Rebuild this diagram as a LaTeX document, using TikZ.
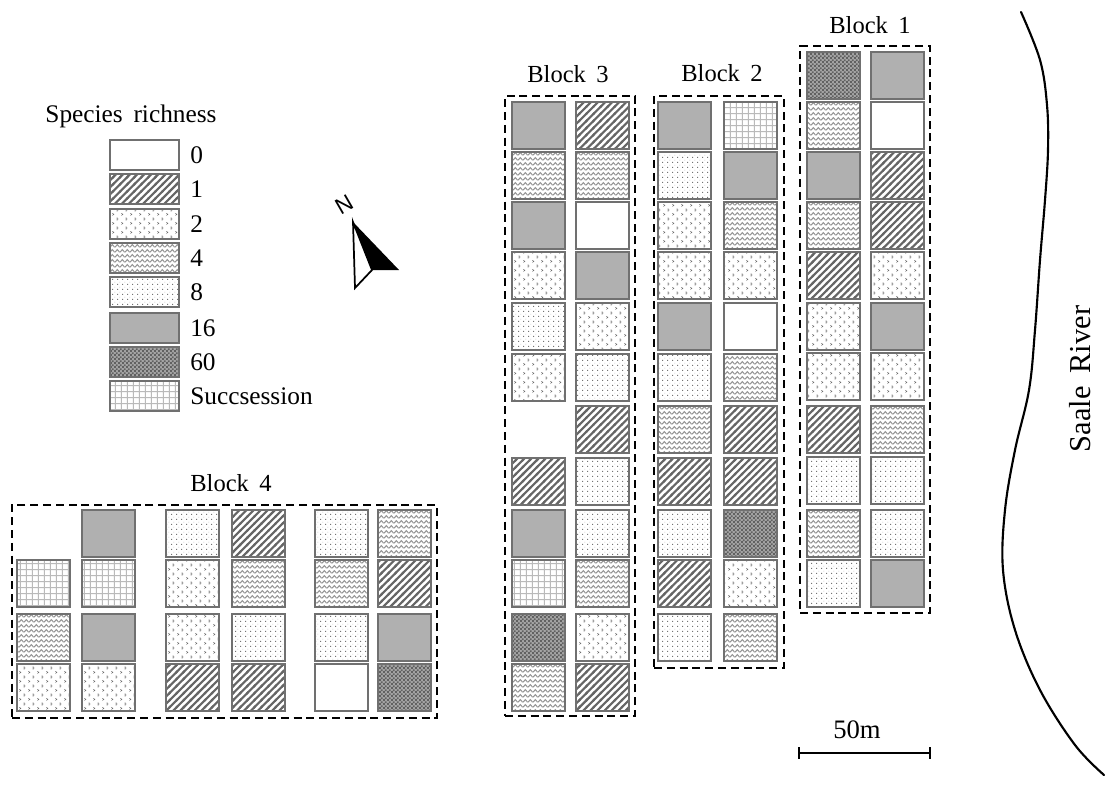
\documentclass[tikz,border=0pt]{standalone}
\usepackage{fontspec}
\setmainfont[WordSpace=1.7]{Liberation Serif}
\newfontfamily\northfont{Liberation Sans}
\usetikzlibrary{patterns}
\definecolor{edgegray}{HTML}{707070}
\definecolor{fillgray}{HTML}{B0B0B0}
\definecolor{darkfill}{HTML}{A4A4A4}
\pgfdeclarepatternformonly{pstripe}{\pgfqpoint{-1pt}{-1pt}}{\pgfqpoint{6.3pt}{6.3pt}}{\pgfqpoint{5.3pt}{5.3pt}}{%
  \pgfsetlinewidth{1.6pt}\pgfpathmoveto{\pgfqpoint{-1pt}{-1pt}}\pgfpathlineto{\pgfqpoint{6.3pt}{6.3pt}}\pgfusepath{stroke}}
\pgfdeclarepatternformonly{pchevron}{\pgfqpoint{0pt}{0pt}}{\pgfqpoint{7pt}{7pt}}{\pgfqpoint{7pt}{7pt}}{%
  \pgfpathrectangle{\pgfqpoint{1pt}{1pt}}{\pgfqpoint{.7pt}{.7pt}}
  \pgfpathrectangle{\pgfqpoint{1.7pt}{1.7pt}}{\pgfqpoint{.7pt}{.7pt}}
  \pgfpathrectangle{\pgfqpoint{1pt}{2.4pt}}{\pgfqpoint{.7pt}{.7pt}}
  \pgfpathrectangle{\pgfqpoint{4.5pt}{4.5pt}}{\pgfqpoint{.7pt}{.7pt}}
  \pgfpathrectangle{\pgfqpoint{5.2pt}{5.2pt}}{\pgfqpoint{.7pt}{.7pt}}
  \pgfpathrectangle{\pgfqpoint{4.5pt}{5.9pt}}{\pgfqpoint{.7pt}{.7pt}}
  \pgfusepath{fill}}
\pgfdeclarepatternformonly{pfine}{\pgfqpoint{0pt}{0pt}}{\pgfqpoint{4pt}{4pt}}{\pgfqpoint{4pt}{4pt}}{%
  \pgfpathrectangle{\pgfqpoint{1pt}{1pt}}{\pgfqpoint{.7pt}{.7pt}}
  \pgfpathrectangle{\pgfqpoint{3pt}{3pt}}{\pgfqpoint{.5pt}{.5pt}}
  \pgfusepath{fill}}
\pgfdeclarepatternformonly{pwave}{\pgfqpoint{0pt}{0pt}}{\pgfqpoint{3.6pt}{3.4pt}}{\pgfqpoint{3.6pt}{3.4pt}}{%
  \pgfsetlinewidth{.8pt}\pgfpathmoveto{\pgfqpoint{0pt}{.6pt}}\pgfpathlineto{\pgfqpoint{1.8pt}{2.8pt}}\pgfpathlineto{\pgfqpoint{3.6pt}{.6pt}}\pgfusepath{stroke}}
\pgfdeclarepatternformonly{pcheck}{\pgfqpoint{0pt}{0pt}}{\pgfqpoint{3.2pt}{3.2pt}}{\pgfqpoint{3.2pt}{3.2pt}}{%
  \pgfpathrectangle{\pgfqpoint{0pt}{0pt}}{\pgfqpoint{1.6pt}{1.6pt}}
  \pgfpathrectangle{\pgfqpoint{1.6pt}{1.6pt}}{\pgfqpoint{1.6pt}{1.6pt}}
  \pgfusepath{fill}}
\pgfdeclarepatternformonly{pgrid}{\pgfqpoint{0pt}{0pt}}{\pgfqpoint{4.75pt}{4.75pt}}{\pgfqpoint{4.75pt}{4.75pt}}{%
  \pgfsetlinewidth{.75pt}\pgfpathmoveto{\pgfqpoint{2pt}{0pt}}\pgfpathlineto{\pgfqpoint{2pt}{4.75pt}}
  \pgfpathmoveto{\pgfqpoint{0pt}{2pt}}\pgfpathlineto{\pgfqpoint{4.75pt}{2pt}}\pgfusepath{stroke}}
\tikzset{
  cell/.style={rectangle,anchor=north west,inner sep=0pt,outer sep=0pt,minimum width=39.75pt,minimum height=35.25pt,draw=edgegray,line width=1.2pt},
  key/.style={cell,minimum width=51.75pt,minimum height=22.5pt},
  p0/.style={fill=white},
  p1/.style={pattern=pstripe,pattern color=black!60},
  p2/.style={pattern=pchevron,pattern color=black!58},
  p4/.style={pattern=pwave,pattern color=black!42},
  p8/.style={pattern=pfine,pattern color=black!55},
  p16/.style={fill=fillgray},
  p60/.style={preaction={fill=darkfill},pattern=pcheck,pattern color=black!62},
  ps/.style={pattern=pgrid,pattern color=black!27},
  blockbox/.style={draw=black,line width=1.15pt,dash pattern=on 6pt off 3.6pt,inner sep=0pt,outer sep=0pt,anchor=north west},
  txt/.style={font=\fontsize{18.4}{22}\selectfont,inner sep=0pt,text=black},
  bigtxt/.style={font=\fontsize{19}{22}\selectfont,inner sep=0pt,text=black},
  keylabel/.style={bigtxt,anchor=west},
}
\begin{document}
\begin{tikzpicture}[x=.75pt,y=-.75pt]
\useasboundingbox (0,0) rectangle (1105,785);
% legend
\node[bigtxt] (legendtitle) at (131,116) {Species richness};
\foreach \y/\s/\t [count=\i] in {140/p0/0,174/p1/1,209/p2/2,243/p4/4,277/p8/8,313/p16/16,347/p60/60,381/ps/Succsession}{
  \node[key,\s] (key\i) at (110,\y) {};
  \node[keylabel] (keytext\i) at (190,\y+15) {\t};
}
% block 4
\node[blockbox,minimum width=318.75pt,minimum height=159.75pt] (box4) at (12,505) {};
\node[txt] (title4) at (231,483) {Block 4};
\foreach \y/\s [count=\i] in {560/ps,614/p4,664/p2} \node[cell,\s] (fa\i) at (17,\y) {};
\foreach \y/\s [count=\i] in {510/p16,560/ps,614/p16,664/p2} \node[cell,\s] (fb\i) at (82,\y) {};
\foreach \y/\s [count=\i] in {510/p8,560/p2,614/p2,664/p1} \node[cell,\s] (fc\i) at (166,\y) {};
\foreach \y/\s [count=\i] in {510/p1,560/p4,614/p8,664/p1} \node[cell,\s] (fd\i) at (232,\y) {};
\foreach \y/\s [count=\i] in {510/p8,560/p4,614/p8,664/p0} \node[cell,\s] (fe\i) at (315,\y) {};
\foreach \y/\s [count=\i] in {510/p4,560/p1,614/p16,664/p60} \node[cell,\s] (ff\i) at (378,\y) {};
% block 3
\node[blockbox,minimum width=97.5pt,minimum height=465pt] (box3) at (505,96) {};
\node[txt] (title3) at (568,74) {Block 3};
\foreach \y/\s [count=\i] in {102/p16,152/p4,202/p16,252/p2,303/p8,354/p2,458/p1,510/p16,560/ps,614/p60,664/p4} \node[cell,\s] (ca\i) at (512,\y) {};
\foreach \y/\s [count=\i] in {102/p1,152/p4,202/p0,252/p16,303/p2,354/p8,406/p1,458/p8,510/p8,560/p4,614/p2,664/p1} \node[cell,\s] (cb\i) at (576,\y) {};
% block 2
\node[blockbox,minimum width=97.5pt,minimum height=429pt] (box2) at (654,96) {};
\node[txt] (title2) at (722,73) {Block 2};
\foreach \y/\s [count=\i] in {102/p16,152/p8,202/p2,252/p2,303/p16,354/p8,406/p4,458/p1,510/p8,560/p1,614/p8} \node[cell,\s] (ba\i) at (658,\y) {};
\foreach \y/\s [count=\i] in {102/ps,152/p16,202/p4,252/p2,303/p0,354/p4,406/p1,458/p1,510/p60,560/p2,614/p4} \node[cell,\s] (bb\i) at (724,\y) {};
% block 1
\node[blockbox,minimum width=97.5pt,minimum height=425.25pt] (box1) at (800,46) {};
\node[txt] (title1) at (870,25) {Block 1};
\foreach \y/\s [count=\i] in {52/p60,102/p4,152/p16,202/p4,252/p1,303/p2,353/p2,406/p1,457/p8,510/p4,560/p8} \node[cell,\s] (aa\i) at (807,\y) {};
\foreach \y/\s [count=\i] in {52/p16,102/p0,152/p1,202/p1,252/p2,303/p16,353/p2,406/p4,457/p8,510/p8,560/p16} \node[cell,\s] (ab\i) at (871,\y) {};
% north arrow
\fill[black] (353,222) -- (399,270) -- (372,270) -- cycle;
\draw[black,line width=1.3pt,line join=miter,fill=white] (353,222) -- (372,270) -- (355,288) -- cycle;
\node[inner sep=0pt,rotate=30,font=\northfont\fontsize{17}{18}\selectfont] (north) at (344,205) {N};
% scale bar
\coordinate (barl) at (799,753);
\coordinate (barr) at (930,753);
\draw[black,line width=1.7pt] (barl) -- (barr);
\draw[black,line width=1.7pt] ([yshift=4.5pt]barl) -- ([yshift=-4.5pt]barl);
\draw[black,line width=1.7pt] ([yshift=4.5pt]barr) -- ([yshift=-4.5pt]barr);
\node[font=\fontsize{20}{22}\selectfont,inner sep=0pt] (barlabel) at (857,730) {50m};
% river
\draw[black,line width=1.6pt,line cap=round] plot[smooth,tension=.6] coordinates {(1021,12) (1040,60) (1047,105) (1048,150) (1045,200) (1040,260) (1035,330) (1029,390) (1015,450) (1005,510) (1003,570) (1015,630) (1040,690) (1075,745) (1104,775)};
\node[font=\fontsize{22.8}{24}\selectfont,inner sep=0pt,rotate=90] (river) at (1080,379) {Saale River};
\end{tikzpicture}
\end{document}
